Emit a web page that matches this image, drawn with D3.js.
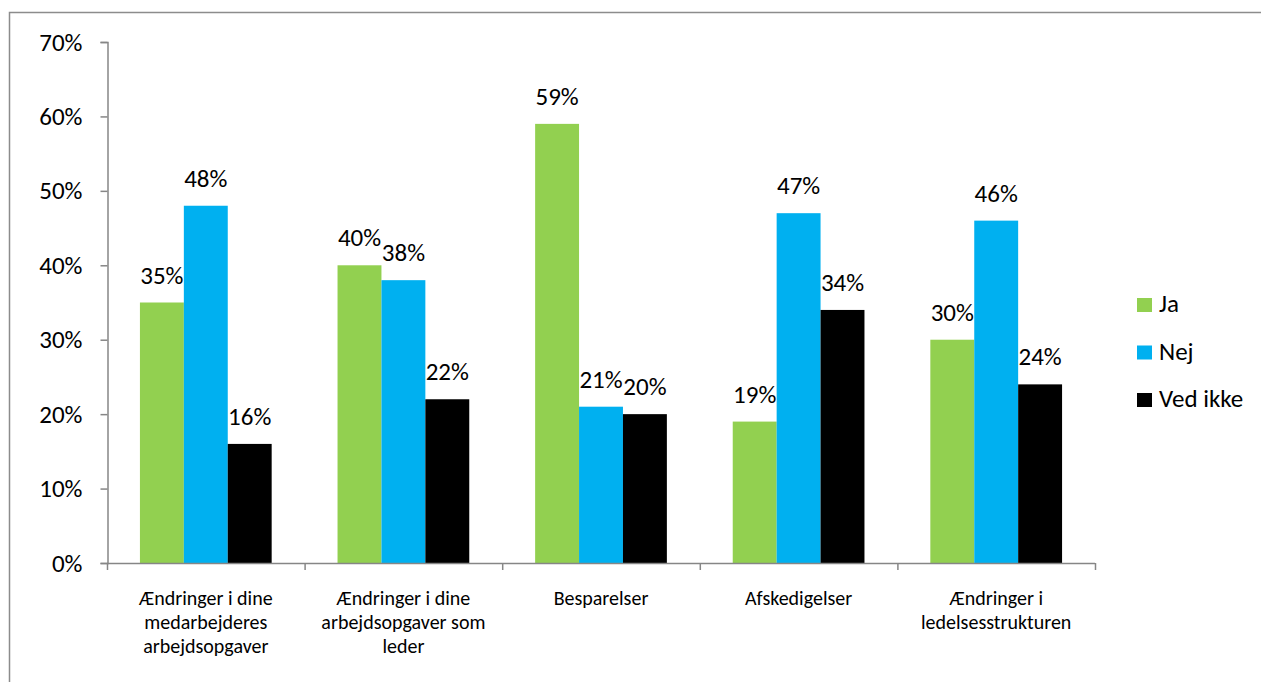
<!DOCTYPE html>
<html>
<head>
<meta charset="utf-8">
<script src="https://cdn.jsdelivr.net/npm/d3@7"></script>
<style>
  html, body { margin: 0; padding: 0; background: #ffffff; }
  svg { display: block; }
  text { font-family: Carlito, Calibri, Lato, "Open Sans", sans-serif; fill: #000; }
</style>
</head>
<body>
<svg id="chart" width="1261" height="682"></svg>
<script>
// Survey answers per topic
const categories = [
  ["Ændringer i dine", "medarbejderes", "arbejdsopgaver"],
  ["Ændringer i dine", "arbejdsopgaver som", "leder"],
  ["Besparelser"],
  ["Afskedigelser"],
  ["Ændringer i", "ledelsesstrukturen"]
];
const seriesNames = ["Ja", "Nej", "Ved ikke"];
const jaValues = [0.35, 0.40, 0.59, 0.19, 0.30];
const nejValues = [0.48, 0.38, 0.21, 0.47, 0.46];
const vedIkkeValues = [0.16, 0.22, 0.20, 0.34, 0.24];
const yTicks = [0, 0.1, 0.2, 0.3, 0.4, 0.5, 0.6, 0.7];

const seriesValues = [jaValues, nejValues, vedIkkeValues];
const colors = ["#92D050", "#00B0F0", "#000000"];
const catKeys = categories.map((c, i) => i);

const svg = d3.select("#chart");
const axisColor = "#868686";

// Outer chart frame
svg.append("rect")
  .attr("x", 9.5).attr("y", 12.5)
  .attr("width", 1400).attr("height", 800)
  .attr("fill", "none")
  .attr("stroke", "#8c8c8c")
  .attr("stroke-width", 1.5);

const plot = { left: 107, right: 1095, top: 42, bottom: 563 };

const y = d3.scaleLinear().domain([0, 0.7]).range([plot.bottom, plot.top]);
const pIn = 1 / 3;
const x = d3.scaleBand().domain(catKeys).range([plot.left, plot.right])
  .paddingInner(pIn).paddingOuter(pIn / 2);
const xs = d3.scaleBand().domain(d3.range(seriesNames.length)).range([0, x.bandwidth()]);

// Y axis
const yAxis = d3.axisLeft(y).tickValues(yTicks)
  .tickFormat(d3.format(".0%")).tickSize(7).tickPadding(18);
const gy = svg.append("g").attr("transform", `translate(${plot.left + 0.5},0)`).call(yAxis);
gy.select(".domain").attr("stroke", axisColor).attr("stroke-width", 1.5);
gy.selectAll(".tick line").attr("stroke", axisColor).attr("stroke-width", 1.5);
gy.selectAll(".tick text").attr("font-size", 25).attr("font-family", null);

// Bars
const groups = svg.append("g").selectAll("g")
  .data(catKeys).join("g")
  .attr("transform", d => `translate(${x(d)},0)`);

groups.selectAll("rect")
  .data(ci => seriesValues.map((vals, si) => ({ si, v: vals[ci] })))
  .join("rect")
  .attr("x", d => xs(d.si))
  .attr("width", xs.bandwidth())
  .attr("y", d => y(d.v))
  .attr("height", d => y(0) - y(d.v))
  .attr("fill", d => colors[d.si]);

groups.selectAll("text.val")
  .data(ci => seriesValues.map((vals, si) => ({ si, v: vals[ci] })))
  .join("text")
  .attr("class", "val")
  .attr("x", d => xs(d.si) + xs.bandwidth() / 2)
  .attr("y", d => y(d.v) - 19)
  .attr("text-anchor", "middle")
  .attr("font-size", 25)
  .text(d => d3.format(".0%")(d.v));

// X axis with boundary ticks between categories
const step = x.step();
const bounds = catKeys.map(k => x(k) - step * pIn / 2).concat([plot.right]);
const gx = svg.append("g");
gx.append("line")
  .attr("x1", plot.left).attr("x2", plot.right)
  .attr("y1", plot.bottom + 0.5).attr("y2", plot.bottom + 0.5)
  .attr("stroke", axisColor).attr("stroke-width", 1.5);
gx.selectAll("line.tick").data(bounds).join("line")
  .attr("class", "tick")
  .attr("x1", d => d + 0.5).attr("x2", d => d + 0.5)
  .attr("y1", plot.bottom).attr("y2", plot.bottom + 7)
  .attr("stroke", axisColor).attr("stroke-width", 1.5);

const catLabels = gx.selectAll("text.cat").data(catKeys).join("text")
  .attr("class", "cat")
  .attr("text-anchor", "middle")
  .attr("font-size", 20)
  .attr("transform", d => `translate(${x(d) + x.bandwidth() / 2},605)`);
catLabels.selectAll("tspan").data(d => categories[d]).join("tspan")
  .attr("x", 0)
  .attr("y", (d, i) => i * 24)
  .text(d => d);

// Legend
const legend = svg.append("g").attr("transform", "translate(1137,0)");
const legendItems = legend.selectAll("g").data(seriesNames).join("g")
  .attr("transform", (d, i) => `translate(0,${312 + i * 47.5})`);
legendItems.append("rect")
  .attr("x", 0).attr("y", -14).attr("width", 15).attr("height", 14)
  .attr("fill", (d, i) => colors[i]);
legendItems.append("text")
  .attr("x", 22).attr("y", 0)
  .attr("font-size", 25)
  .text(d => d);
</script>
</body>
</html>
